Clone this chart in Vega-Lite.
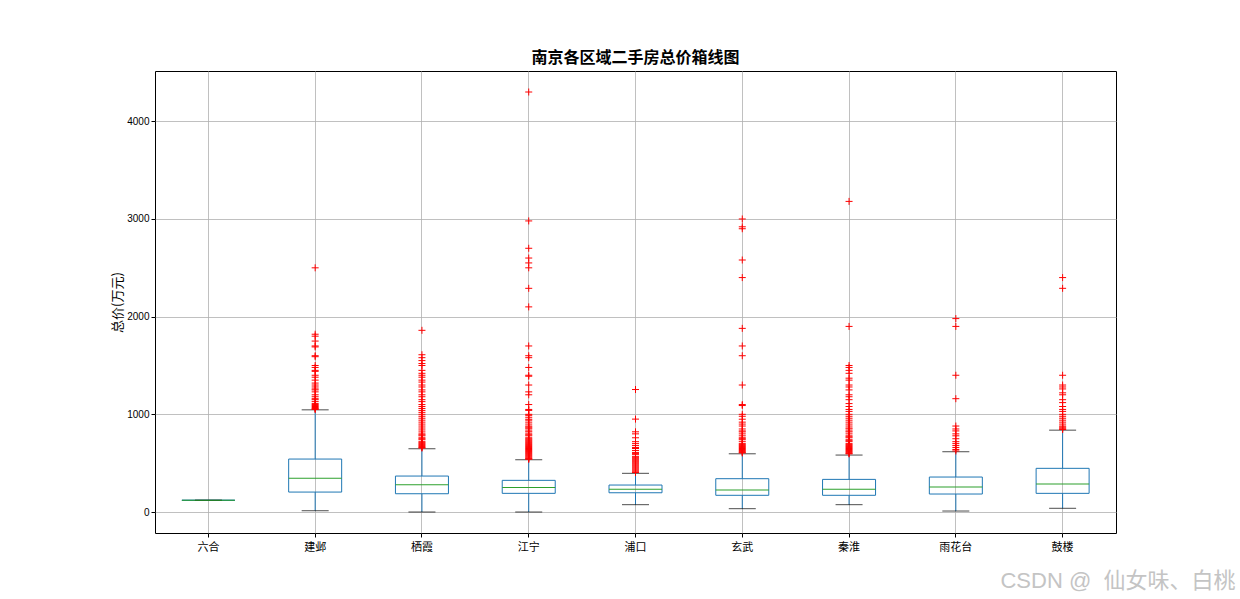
{
  "$schema": "https://vega.github.io/schema/vega-lite/v6.json",
  "autosize": {"type": "none"},
  "padding": {"left": 155, "top": 71, "right": 124, "bottom": 66},
  "width": 961,
  "height": 462,
  "background": "white",
  "title": {"text": "南京各区域二手房总价箱线图", "fontSize": 16, "fontWeight": "bold", "font": "Noto Sans CJK SC", "color": "#000", "anchor": "middle", "offset": 5},
  "config": {
    "view": {"stroke": "#000", "strokeWidth": 1},
    "font": "Noto Sans CJK SC"
  },
  "datasets": {
    "stats": [
      {"区域": "六合", "lower": 120, "q1": 120, "median": 120, "q3": 120, "upper": 120},
      {"区域": "建邺", "lower": 13, "q1": 204, "median": 345, "q3": 542, "upper": 1046},
      {"区域": "栖霞", "lower": 0, "q1": 187, "median": 279, "q3": 368, "upper": 647},
      {"区域": "江宁", "lower": 0, "q1": 191, "median": 252, "q3": 324, "upper": 535},
      {"区域": "浦口", "lower": 75, "q1": 197, "median": 232, "q3": 276, "upper": 396},
      {"区域": "玄武", "lower": 34, "q1": 171, "median": 225, "q3": 341, "upper": 596},
      {"区域": "秦淮", "lower": 75, "q1": 171, "median": 232, "q3": 334, "upper": 583},
      {"区域": "雨花台", "lower": 10, "q1": 184, "median": 256, "q3": 358, "upper": 617},
      {"区域": "鼓楼", "lower": 38, "q1": 191, "median": 286, "q3": 447, "upper": 838}
    ],
    "outliers": [
      {"区域": "建邺", "总价": 2500}, {"区域": "建邺", "总价": 1820}, {"区域": "建邺", "总价": 1800}, {"区域": "建邺", "总价": 1750}, {"区域": "建邺", "总价": 1700}, {"区域": "建邺", "总价": 1690}, {"区域": "建邺", "总价": 1600}, {"区域": "建邺", "总价": 1590}, {"区域": "建邺", "总价": 1500}, {"区域": "建邺", "总价": 1480}, {"区域": "建邺", "总价": 1450}, {"区域": "建邺", "总价": 1440}, {"区域": "建邺", "总价": 1400}, {"区域": "建邺", "总价": 1380}, {"区域": "建邺", "总价": 1350}, {"区域": "建邺", "总价": 1320}, {"区域": "建邺", "总价": 1300}, {"区域": "建邺", "总价": 1280}, {"区域": "建邺", "总价": 1260}, {"区域": "建邺", "总价": 1250}, {"区域": "建邺", "总价": 1230}, {"区域": "建邺", "总价": 1200}, {"区域": "建邺", "总价": 1180}, {"区域": "建邺", "总价": 1160}, {"区域": "建邺", "总价": 1150}, {"区域": "建邺", "总价": 1130}, {"区域": "建邺", "总价": 1110}, {"区域": "建邺", "总价": 1100}, {"区域": "建邺", "总价": 1090}, {"区域": "建邺", "总价": 1080}, {"区域": "建邺", "总价": 1070}, {"区域": "建邺", "总价": 1060}, {"区域": "建邺", "总价": 1055}, {"区域": "建邺", "总价": 1050},
      {"区域": "栖霞", "总价": 1860}, {"区域": "栖霞", "总价": 1610}, {"区域": "栖霞", "总价": 1580}, {"区域": "栖霞", "总价": 1550}, {"区域": "栖霞", "总价": 1520}, {"区域": "栖霞", "总价": 1500}, {"区域": "栖霞", "总价": 1450}, {"区域": "栖霞", "总价": 1420}, {"区域": "栖霞", "总价": 1400}, {"区域": "栖霞", "总价": 1380}, {"区域": "栖霞", "总价": 1350}, {"区域": "栖霞", "总价": 1330}, {"区域": "栖霞", "总价": 1300}, {"区域": "栖霞", "总价": 1280}, {"区域": "栖霞", "总价": 1250}, {"区域": "栖霞", "总价": 1230}, {"区域": "栖霞", "总价": 1200}, {"区域": "栖霞", "总价": 1180}, {"区域": "栖霞", "总价": 1150}, {"区域": "栖霞", "总价": 1130}, {"区域": "栖霞", "总价": 1100}, {"区域": "栖霞", "总价": 1080}, {"区域": "栖霞", "总价": 1060}, {"区域": "栖霞", "总价": 1040}, {"区域": "栖霞", "总价": 1020}, {"区域": "栖霞", "总价": 1000}, {"区域": "栖霞", "总价": 980}, {"区域": "栖霞", "总价": 960}, {"区域": "栖霞", "总价": 940}, {"区域": "栖霞", "总价": 920}, {"区域": "栖霞", "总价": 900}, {"区域": "栖霞", "总价": 880}, {"区域": "栖霞", "总价": 860}, {"区域": "栖霞", "总价": 840}, {"区域": "栖霞", "总价": 820}, {"区域": "栖霞", "总价": 800}, {"区域": "栖霞", "总价": 790}, {"区域": "栖霞", "总价": 780}, {"区域": "栖霞", "总价": 760}, {"区域": "栖霞", "总价": 750}, {"区域": "栖霞", "总价": 740}, {"区域": "栖霞", "总价": 720}, {"区域": "栖霞", "总价": 710}, {"区域": "栖霞", "总价": 700}, {"区域": "栖霞", "总价": 690}, {"区域": "栖霞", "总价": 680}, {"区域": "栖霞", "总价": 670}, {"区域": "栖霞", "总价": 660}, {"区域": "栖霞", "总价": 655},
      {"区域": "江宁", "总价": 4300}, {"区域": "江宁", "总价": 2980}, {"区域": "江宁", "总价": 2700}, {"区域": "江宁", "总价": 2600}, {"区域": "江宁", "总价": 2550}, {"区域": "江宁", "总价": 2500}, {"区域": "江宁", "总价": 2290}, {"区域": "江宁", "总价": 2100}, {"区域": "江宁", "总价": 1700}, {"区域": "江宁", "总价": 1600}, {"区域": "江宁", "总价": 1580}, {"区域": "江宁", "总价": 1480}, {"区域": "江宁", "总价": 1400}, {"区域": "江宁", "总价": 1390}, {"区域": "江宁", "总价": 1300}, {"区域": "江宁", "总价": 1230}, {"区域": "江宁", "总价": 1200}, {"区域": "江宁", "总价": 1100}, {"区域": "江宁", "总价": 1050}, {"区域": "江宁", "总价": 1040}, {"区域": "江宁", "总价": 1000}, {"区域": "江宁", "总价": 990}, {"区域": "江宁", "总价": 970}, {"区域": "江宁", "总价": 950}, {"区域": "江宁", "总价": 940}, {"区域": "江宁", "总价": 920}, {"区域": "江宁", "总价": 900}, {"区域": "江宁", "总价": 880}, {"区域": "江宁", "总价": 870}, {"区域": "江宁", "总价": 860}, {"区域": "江宁", "总价": 850}, {"区域": "江宁", "总价": 830}, {"区域": "江宁", "总价": 820}, {"区域": "江宁", "总价": 800}, {"区域": "江宁", "总价": 790}, {"区域": "江宁", "总价": 780}, {"区域": "江宁", "总价": 760}, {"区域": "江宁", "总价": 750}, {"区域": "江宁", "总价": 740}, {"区域": "江宁", "总价": 730}, {"区域": "江宁", "总价": 720}, {"区域": "江宁", "总价": 710}, {"区域": "江宁", "总价": 700}, {"区域": "江宁", "总价": 690}, {"区域": "江宁", "总价": 680}, {"区域": "江宁", "总价": 670}, {"区域": "江宁", "总价": 660}, {"区域": "江宁", "总价": 650}, {"区域": "江宁", "总价": 640}, {"区域": "江宁", "总价": 630}, {"区域": "江宁", "总价": 620}, {"区域": "江宁", "总价": 610}, {"区域": "江宁", "总价": 600}, {"区域": "江宁", "总价": 590}, {"区域": "江宁", "总价": 580}, {"区域": "江宁", "总价": 570}, {"区域": "江宁", "总价": 560}, {"区域": "江宁", "总价": 550}, {"区域": "江宁", "总价": 545}, {"区域": "江宁", "总价": 540},
      {"区域": "浦口", "总价": 1254}, {"区域": "浦口", "总价": 951}, {"区域": "浦口", "总价": 821}, {"区域": "浦口", "总价": 800}, {"区域": "浦口", "总价": 760}, {"区域": "浦口", "总价": 720}, {"区域": "浦口", "总价": 700}, {"区域": "浦口", "总价": 680}, {"区域": "浦口", "总价": 660}, {"区域": "浦口", "总价": 650}, {"区域": "浦口", "总价": 630}, {"区域": "浦口", "总价": 610}, {"区域": "浦口", "总价": 600}, {"区域": "浦口", "总价": 590}, {"区域": "浦口", "总价": 570}, {"区域": "浦口", "总价": 560}, {"区域": "浦口", "总价": 550}, {"区域": "浦口", "总价": 540}, {"区域": "浦口", "总价": 530}, {"区域": "浦口", "总价": 520}, {"区域": "浦口", "总价": 510}, {"区域": "浦口", "总价": 500}, {"区域": "浦口", "总价": 490}, {"区域": "浦口", "总价": 480}, {"区域": "浦口", "总价": 470}, {"区域": "浦口", "总价": 460}, {"区域": "浦口", "总价": 450}, {"区域": "浦口", "总价": 440}, {"区域": "浦口", "总价": 430}, {"区域": "浦口", "总价": 420}, {"区域": "浦口", "总价": 410}, {"区域": "浦口", "总价": 405},
      {"区域": "玄武", "总价": 3000}, {"区域": "玄武", "总价": 2920}, {"区域": "玄武", "总价": 2900}, {"区域": "玄武", "总价": 2580}, {"区域": "玄武", "总价": 2400}, {"区域": "玄武", "总价": 1880}, {"区域": "玄武", "总价": 1700}, {"区域": "玄武", "总价": 1600}, {"区域": "玄武", "总价": 1300}, {"区域": "玄武", "总价": 1100}, {"区域": "玄武", "总价": 1090}, {"区域": "玄武", "总价": 1000}, {"区域": "玄武", "总价": 980}, {"区域": "玄武", "总价": 950}, {"区域": "玄武", "总价": 920}, {"区域": "玄武", "总价": 900}, {"区域": "玄武", "总价": 880}, {"区域": "玄武", "总价": 850}, {"区域": "玄武", "总价": 830}, {"区域": "玄武", "总价": 820}, {"区域": "玄武", "总价": 800}, {"区域": "玄武", "总价": 780}, {"区域": "玄武", "总价": 760}, {"区域": "玄武", "总价": 750}, {"区域": "玄武", "总价": 740}, {"区域": "玄武", "总价": 720}, {"区域": "玄武", "总价": 700}, {"区域": "玄武", "总价": 690}, {"区域": "玄武", "总价": 680}, {"区域": "玄武", "总价": 670}, {"区域": "玄武", "总价": 660}, {"区域": "玄武", "总价": 650}, {"区域": "玄武", "总价": 640}, {"区域": "玄武", "总价": 630}, {"区域": "玄武", "总价": 620}, {"区域": "玄武", "总价": 610}, {"区域": "玄武", "总价": 605},
      {"区域": "秦淮", "总价": 3180}, {"区域": "秦淮", "总价": 1900}, {"区域": "秦淮", "总价": 1500}, {"区域": "秦淮", "总价": 1480}, {"区域": "秦淮", "总价": 1450}, {"区域": "秦淮", "总价": 1420}, {"区域": "秦淮", "总价": 1370}, {"区域": "秦淮", "总价": 1350}, {"区域": "秦淮", "总价": 1300}, {"区域": "秦淮", "总价": 1280}, {"区域": "秦淮", "总价": 1250}, {"区域": "秦淮", "总价": 1200}, {"区域": "秦淮", "总价": 1180}, {"区域": "秦淮", "总价": 1150}, {"区域": "秦淮", "总价": 1110}, {"区域": "秦淮", "总价": 1080}, {"区域": "秦淮", "总价": 1050}, {"区域": "秦淮", "总价": 1030}, {"区域": "秦淮", "总价": 1000}, {"区域": "秦淮", "总价": 980}, {"区域": "秦淮", "总价": 960}, {"区域": "秦淮", "总价": 940}, {"区域": "秦淮", "总价": 920}, {"区域": "秦淮", "总价": 900}, {"区域": "秦淮", "总价": 880}, {"区域": "秦淮", "总价": 860}, {"区域": "秦淮", "总价": 850}, {"区域": "秦淮", "总价": 830}, {"区域": "秦淮", "总价": 820}, {"区域": "秦淮", "总价": 800}, {"区域": "秦淮", "总价": 780}, {"区域": "秦淮", "总价": 770}, {"区域": "秦淮", "总价": 760}, {"区域": "秦淮", "总价": 740}, {"区域": "秦淮", "总价": 730}, {"区域": "秦淮", "总价": 720}, {"区域": "秦淮", "总价": 700}, {"区域": "秦淮", "总价": 690}, {"区域": "秦淮", "总价": 680}, {"区域": "秦淮", "总价": 670}, {"区域": "秦淮", "总价": 660}, {"区域": "秦淮", "总价": 650}, {"区域": "秦淮", "总价": 640}, {"区域": "秦淮", "总价": 630}, {"区域": "秦淮", "总价": 620}, {"区域": "秦淮", "总价": 610}, {"区域": "秦淮", "总价": 600}, {"区域": "秦淮", "总价": 595},
      {"区域": "雨花台", "总价": 1980}, {"区域": "雨花台", "总价": 1900}, {"区域": "雨花台", "总价": 1400}, {"区域": "雨花台", "总价": 1160}, {"区域": "雨花台", "总价": 880}, {"区域": "雨花台", "总价": 850}, {"区域": "雨花台", "总价": 830}, {"区域": "雨花台", "总价": 800}, {"区域": "雨花台", "总价": 780}, {"区域": "雨花台", "总价": 750}, {"区域": "雨花台", "总价": 720}, {"区域": "雨花台", "总价": 700}, {"区域": "雨花台", "总价": 680}, {"区域": "雨花台", "总价": 660}, {"区域": "雨花台", "总价": 640}, {"区域": "雨花台", "总价": 625},
      {"区域": "鼓楼", "总价": 2400}, {"区域": "鼓楼", "总价": 2290}, {"区域": "鼓楼", "总价": 1400}, {"区域": "鼓楼", "总价": 1300}, {"区域": "鼓楼", "总价": 1280}, {"区域": "鼓楼", "总价": 1260}, {"区域": "鼓楼", "总价": 1220}, {"区域": "鼓楼", "总价": 1200}, {"区域": "鼓楼", "总价": 1150}, {"区域": "鼓楼", "总价": 1120}, {"区域": "鼓楼", "总价": 1080}, {"区域": "鼓楼", "总价": 1050}, {"区域": "鼓楼", "总价": 1030}, {"区域": "鼓楼", "总价": 1000}, {"区域": "鼓楼", "总价": 980}, {"区域": "鼓楼", "总价": 960}, {"区域": "鼓楼", "总价": 940}, {"区域": "鼓楼", "总价": 920}, {"区域": "鼓楼", "总价": 900}, {"区域": "鼓楼", "总价": 880}, {"区域": "鼓楼", "总价": 870}, {"区域": "鼓楼", "总价": 860}, {"区域": "鼓楼", "总价": 850}, {"区域": "鼓楼", "总价": 845}
    ]
  },
  "encoding": {
    "x": {
      "field": "区域", "type": "nominal",
      "sort": ["六合", "建邺", "栖霞", "江宁", "浦口", "玄武", "秦淮", "雨花台", "鼓楼"],
      "scale": {"paddingInner": 0, "paddingOuter": 0},
      "axis": {
        "title": "CSDN @ \u00a0仙女味、白桃",
        "titleFont": "Liberation Sans, Noto Sans CJK SC",
        "titleFontSize": 22, "titleFontWeight": "normal", "titleColor": "#c4c4c4",
        "titleAnchor": "start", "titleAlign": "right", "titleX": 1080, "titleY": 54, "titleBaseline": "alphabetic",
        "labelAngle": 0, "labelFontSize": 11, "labelColor": "#000", "labelPadding": 4,
        "tickColor": "#000", "tickSize": 4, "domain": false,
        "grid": true, "gridColor": "#b0b0b0", "gridWidth": 0.8, "bandPosition": 0.5
      }
    }
  },
  "layer": [
    {
      "data": {"name": "stats"},
      "mark": {"type": "rule", "color": "#1f77b4", "strokeWidth": 1},
      "encoding": {
        "y": {"field": "lower", "type": "quantitative",
          "scale": {"domain": [-215, 4515], "nice": false, "zero": false},
          "axis": {"title": "总价(万元)", "titleFontSize": 13, "titleFontWeight": "normal", "titleColor": "#000", "titlePadding": 2,
            "values": [0, 1000, 2000, 3000, 4000], "format": "d", "labelFontSize": 10, "labelColor": "#000", "labelFont": "Liberation Sans",
            "tickColor": "#000", "tickSize": 4, "domain": false, "grid": true, "gridColor": "#b0b0b0", "gridWidth": 0.8}},
        "y2": {"field": "q1"}
      }
    },
    {
      "data": {"name": "stats"},
      "mark": {"type": "rule", "color": "#1f77b4", "strokeWidth": 1},
      "encoding": {"y": {"field": "q3", "type": "quantitative"}, "y2": {"field": "upper"}}
    },
    {
      "data": {"name": "stats"},
      "mark": {"type": "bar", "fill": null, "fillOpacity": 0, "stroke": "#1f77b4", "strokeWidth": 1, "size": 53},
      "encoding": {"y": {"field": "q1", "type": "quantitative"}, "y2": {"field": "q3"}}
    },
    {
      "data": {"name": "stats"},
      "mark": {"type": "tick", "color": "#000", "thickness": 1, "size": 27, "orient": "horizontal"},
      "encoding": {"y": {"field": "lower", "type": "quantitative"}}
    },
    {
      "data": {"name": "stats"},
      "mark": {"type": "tick", "color": "#000", "thickness": 1, "size": 27, "orient": "horizontal"},
      "encoding": {"y": {"field": "upper", "type": "quantitative"}}
    },
    {
      "data": {"name": "stats"},
      "mark": {"type": "tick", "color": "#2ca02c", "thickness": 1, "size": 53, "orient": "horizontal", "opacity": 1},
      "encoding": {"y": {"field": "median", "type": "quantitative"}}
    },
    {
      "data": {"name": "outliers"},
      "mark": {"type": "point", "shape": "M-1,0H1M0,-1V1", "size": 49, "stroke": "#ff0000", "strokeWidth": 1, "filled": false, "opacity": 1},
      "encoding": {"y": {"field": "总价", "type": "quantitative"}}
    }
  ]
}
